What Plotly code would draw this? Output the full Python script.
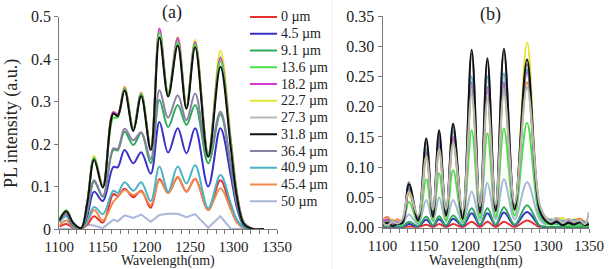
import plotly.graph_objects as go

W, H = 612, 269
FONT = "'Liberation Serif', 'Times New Roman', Tinos, serif"

labels = ["0 µm", "4.5 µm", "9.1 µm", "13.6 µm", "18.2 µm", "22.7 µm",
          "27.3 µm", "31.8 µm", "36.4 µm", "40.9 µm", "45.4 µm", "50 µm"]
colors = ["#e8312f", "#3b2fc9", "#2eaa5e", "#4be04b", "#d63ad6", "#e1e632",
          "#b8b8b0", "#111111", "#8a7fa0", "#4ab3c6", "#f0894c", "#a8b6d8"]

# ---- panel (a) ----
xa = [1100, 1108, 1116, 1125, 1132, 1140, 1150, 1162, 1167, 1175, 1185, 1194, 1205,
      1215, 1225, 1236, 1246, 1256, 1271, 1285, 1297, 1304, 1312, 1322, 1335]
a_0 = [0.005, 0.012, 0.003, 0.000, 0.010, 0.030, 0.015, 0.082, 0.078, 0.095, 0.075, 0.090, 0.050,
       0.118, 0.085, 0.121, 0.088, 0.118, 0.045, 0.115, 0.050, 0.018, 0.003, 0.000, 0.000]
a_45 = [0.020, 0.035, 0.008, 0.001, 0.030, 0.088, 0.066, 0.146, 0.145, 0.186, 0.155, 0.181, 0.130,
        0.252, 0.180, 0.237, 0.178, 0.237, 0.100, 0.237, 0.125, 0.050, 0.008, 0.000, 0.000]
a_91 = [0.022, 0.038, 0.010, 0.001, 0.040, 0.112, 0.076, 0.186, 0.185, 0.229, 0.198, 0.226, 0.155,
        0.304, 0.240, 0.292, 0.245, 0.292, 0.155, 0.270, 0.145, 0.058, 0.010, 0.000, 0.000]
a_136 = [0.022, 0.044, 0.014, 0.002, 0.062, 0.168, 0.100, 0.262, 0.262, 0.330, 0.235, 0.318, 0.190,
         0.462, 0.318, 0.440, 0.288, 0.435, 0.175, 0.395, 0.200, 0.080, 0.014, 0.000, 0.000]
a_182 = [0.021, 0.043, 0.014, 0.002, 0.062, 0.168, 0.101, 0.275, 0.270, 0.332, 0.236, 0.320, 0.191,
         0.472, 0.318, 0.450, 0.288, 0.440, 0.176, 0.402, 0.205, 0.085, 0.016, 0.001, 0.000]
a_227 = [0.021, 0.043, 0.014, 0.002, 0.063, 0.172, 0.102, 0.276, 0.270, 0.336, 0.237, 0.322, 0.192,
         0.470, 0.320, 0.452, 0.290, 0.445, 0.178, 0.420, 0.210, 0.085, 0.015, 0.000, 0.000]
a_273 = [0.020, 0.042, 0.014, 0.002, 0.061, 0.166, 0.100, 0.273, 0.268, 0.330, 0.234, 0.318, 0.190,
         0.466, 0.316, 0.446, 0.287, 0.440, 0.175, 0.405, 0.205, 0.082, 0.014, 0.000, 0.000]
a_318 = [0.020, 0.042, 0.014, 0.002, 0.060, 0.163, 0.098, 0.272, 0.266, 0.326, 0.231, 0.313, 0.186,
         0.451, 0.312, 0.432, 0.283, 0.428, 0.170, 0.382, 0.190, 0.075, 0.012, 0.000, 0.000]
a_364 = [0.018, 0.036, 0.010, 0.001, 0.040, 0.115, 0.078, 0.190, 0.188, 0.236, 0.209, 0.228, 0.165,
         0.327, 0.262, 0.315, 0.256, 0.319, 0.170, 0.276, 0.150, 0.060, 0.012, 0.000, 0.000]
a_409 = [0.015, 0.030, 0.006, 0.000, 0.018, 0.052, 0.035, 0.090, 0.085, 0.110, 0.090, 0.110, 0.066,
         0.147, 0.088, 0.147, 0.107, 0.150, 0.049, 0.127, 0.060, 0.022, 0.004, 0.000, 0.000]
a_454 = [0.008, 0.020, 0.004, 0.000, 0.015, 0.045, 0.020, 0.064, 0.075, 0.092, 0.080, 0.088, 0.056,
         0.115, 0.085, 0.123, 0.088, 0.119, 0.045, 0.096, 0.045, 0.015, 0.002, 0.000, 0.000]
a_50 = [0.000, 0.000, 0.000, 0.000, 0.010, 0.008, 0.002, 0.022, 0.018, 0.032, 0.026, 0.034, 0.017,
        0.033, 0.036, 0.036, 0.028, 0.035, 0.003, 0.030, 0.000, 0.000, 0.000, 0.000, 0.000]
series_a = [a_0, a_45, a_91, a_136, a_182, a_227, a_273, a_318, a_364, a_409, a_454, a_50]

# ---- panel (b) ----
xb = [1100, 1106, 1112, 1118, 1124, 1132, 1143, 1153, 1161, 1168.5, 1177, 1185.5, 1197, 1208, 1218,
      1227, 1237, 1247, 1260, 1275, 1290, 1297, 1304, 1311, 1318, 1325, 1332, 1339, 1345, 1350]
b_0 = [0, 0, 0, 0, 0, 0.002, 0.001, 0.005, 0.001, 0.006, 0.001, 0.006, 0.001, 0.010, 0.001,
       0.010, 0.001, 0.010, 0.001, 0.012, 0.001, 0, 0, 0, 0, 0, 0, 0, 0, 0]
b_45 = [0.001, 0.002, 0.001, 0.001, 0.001, 0.006, 0.002, 0.013, 0.003, 0.014, 0.003, 0.015, 0.003, 0.024, 0.004,
        0.024, 0.004, 0.025, 0.004, 0.026, 0.003, 0.001, 0.001, 0.001, 0.001, 0.001, 0.001, 0.001, 0.001, 0.001]
b_91 = [0.002, 0.003, 0.002, 0.002, 0.002, 0.010, 0.003, 0.018, 0.004, 0.019, 0.004, 0.020, 0.004, 0.032, 0.005,
        0.032, 0.005, 0.034, 0.005, 0.037, 0.004, 0.002, 0.001, 0.001, 0.001, 0.001, 0.001, 0.001, 0.001, 0.001]
b_136 = [0.004, 0.007, 0.004, 0.006, 0.005, 0.043, 0.008, 0.080, 0.012, 0.090, 0.012, 0.095, 0.010, 0.161, 0.016,
         0.156, 0.018, 0.164, 0.020, 0.173, 0.020, 0.008, 0.005, 0.006, 0.004, 0.005, 0.003, 0.005, 0.003, 0.004]
b_182 = [0.008, 0.014, 0.006, 0.010, 0.007, 0.062, 0.012, 0.125, 0.017, 0.140, 0.019, 0.150, 0.015, 0.240, 0.024,
         0.232, 0.027, 0.240, 0.030, 0.258, 0.030, 0.014, 0.008, 0.013, 0.007, 0.012, 0.006, 0.012, 0.008, 0.006]
b_227 = [0.006, 0.010, 0.014, 0.006, 0.012, 0.055, 0.012, 0.115, 0.016, 0.130, 0.018, 0.140, 0.014, 0.225, 0.023,
         0.215, 0.026, 0.225, 0.030, 0.306, 0.036, 0.016, 0.010, 0.014, 0.016, 0.008, 0.014, 0.012, 0.010, 0.007]
b_273 = [0.008, 0.004, 0.010, 0.007, 0.014, 0.060, 0.020, 0.118, 0.030, 0.130, 0.030, 0.140, 0.028, 0.220, 0.036,
         0.212, 0.038, 0.222, 0.040, 0.232, 0.040, 0.018, 0.010, 0.016, 0.008, 0.014, 0.010, 0.012, 0.006, 0.026]
b_318 = [0.004, 0.008, 0.003, 0.006, 0.008, 0.072, 0.012, 0.148, 0.018, 0.161, 0.020, 0.172, 0.015, 0.294, 0.025,
         0.280, 0.028, 0.296, 0.030, 0.278, 0.030, 0.012, 0.006, 0.010, 0.004, 0.008, 0.005, 0.009, 0.004, 0.006]
b_364 = [0.006, 0.012, 0.005, 0.008, 0.010, 0.075, 0.015, 0.142, 0.020, 0.156, 0.022, 0.168, 0.018, 0.288, 0.028,
         0.276, 0.030, 0.292, 0.035, 0.270, 0.035, 0.015, 0.008, 0.012, 0.006, 0.010, 0.007, 0.011, 0.006, 0.008]
b_409 = [0.010, 0.006, 0.012, 0.004, 0.009, 0.066, 0.013, 0.130, 0.018, 0.146, 0.020, 0.160, 0.016, 0.250, 0.026,
         0.250, 0.028, 0.255, 0.032, 0.262, 0.028, 0.010, 0.014, 0.006, 0.012, 0.007, 0.013, 0.006, 0.010, 0.005]
b_454 = [0.012, 0.018, 0.008, 0.014, 0.010, 0.060, 0.014, 0.120, 0.018, 0.135, 0.020, 0.146, 0.016, 0.234, 0.025,
         0.225, 0.028, 0.235, 0.032, 0.240, 0.034, 0.018, 0.012, 0.016, 0.010, 0.014, 0.012, 0.015, 0.010, 0.008]
b_50 = [0.012, 0.006, 0.010, 0.005, 0.006, 0.022, 0.006, 0.046, 0.010, 0.050, 0.010, 0.046, 0.008, 0.060, 0.012,
        0.074, 0.014, 0.080, 0.014, 0.075, 0.014, 0.006, 0.010, 0.005, 0.009, 0.005, 0.010, 0.006, 0.008, 0.004]
series_b = [b_0, b_45, b_91, b_136, b_182, b_227, b_273, b_318, b_364, b_409, b_454, b_50]

x_ticks = [1100, 1150, 1200, 1250, 1300, 1350]

fig = go.Figure()

order_a = [11, 0, 10, 9, 1, 2, 8, 6, 5, 4, 3, 7]
for i in order_a:
    fig.add_trace(go.Scatter(
        x=xa, y=series_a[i], mode="lines", name=labels[i],
        line=dict(color=colors[i], width=2, shape="linear" if i == 11 else "spline", smoothing=1.0),
        xaxis="x", yaxis="y", showlegend=False))

order_b = [0, 1, 2, 11, 3, 5, 10, 4, 9, 8, 7, 6]
for i in order_b:
    fig.add_trace(go.Scatter(
        x=xb, y=series_b[i], mode="lines", name=labels[i],
        line=dict(color=colors[i], width=2.2 if i == 6 else 2, shape="spline", smoothing=1.0),
        xaxis="x2", yaxis="y2", showlegend=False))


def px(v):
    return v / W


def py(v):
    return 1 - v / H


XTF = dict(family=FONT, size=15, color="#222")
YTF = dict(family=FONT, size=16, color="#222")
axis_common = dict(showline=True, linecolor="#7a7a7a", linewidth=1, showgrid=False, zeroline=False,
                   ticks="outside", tickcolor="#7a7a7a", ticklen=4, automargin=False)
minor = dict(dtick=10, ticks="outside", ticklen=4, tickcolor="#7a7a7a")

fig.update_layout(
    template=None,
    width=W, height=H, margin=dict(l=0, r=0, t=0, b=0),
    paper_bgcolor="white", plot_bgcolor="white",
    font=dict(family=FONT, size=15, color="#222"),
    xaxis=dict(domain=[px(59.3), px(277)], range=[1100, 1350], tickvals=x_ticks, minor=minor,
               anchor="y", tickfont=XTF, **axis_common),
    yaxis=dict(domain=[py(229), py(16.7)], range=[0, 0.5], dtick=0.1, anchor="x",
               tickfont=YTF, **axis_common),
    xaxis2=dict(domain=[px(382.5), px(589)], range=[1100, 1350], tickvals=x_ticks, minor=minor,
                anchor="y2", tickfont=XTF, **axis_common),
    yaxis2=dict(domain=[py(227.7), py(16)], range=[0, 0.35], dtick=0.05, tickformat=".2f",
                anchor="x2", tickfont=YTF, **axis_common),
)

shapes = [dict(type="line", xref="paper", yref="paper", x0=px(332), x1=px(332), y0=0, y1=1,
               line=dict(color="#ececec", width=1))]
annotations = []
for k, (lab, col) in enumerate(zip(labels, colors)):
    yy = 17 + k * 16.75
    shapes.append(dict(type="line", xref="paper", yref="paper", x0=px(250), x1=px(277),
                       y0=py(yy), y1=py(yy), line=dict(color=col, width=2)))
    annotations.append(dict(text=lab, xref="paper", yref="paper", x=px(279), y=py(yy),
                            xanchor="left", yanchor="middle", showarrow=False,
                            font=dict(family=FONT, size=14, color="#222")))

title_font = dict(family=FONT, size=18, color="#222")
xt_font = dict(family=FONT, size=14, color="#222")
annotations += [
    dict(text="(a)", xref="paper", yref="paper", x=px(172), y=py(12), xanchor="center",
         yanchor="middle", showarrow=False, font=title_font),
    dict(text="(b)", xref="paper", yref="paper", x=px(490), y=py(15), xanchor="center",
         yanchor="middle", showarrow=False, font=title_font),
    dict(text="PL intensity (a.u.)", xref="paper", yref="paper", x=px(12), y=py(124),
         xanchor="center", yanchor="middle", textangle=-90, showarrow=False, font=title_font),
    dict(text="Wavelength(nm)", xref="paper", yref="paper", x=px(168), y=py(270),
         xanchor="center", yanchor="bottom", showarrow=False, font=xt_font, borderpad=0),
    dict(text="Wavelength(nm)", xref="paper", yref="paper", x=px(476), y=py(270),
         xanchor="center", yanchor="bottom", showarrow=False, font=xt_font, borderpad=0),
]
fig.update_layout(shapes=shapes, annotations=annotations)

fig.write_html("out.html")
